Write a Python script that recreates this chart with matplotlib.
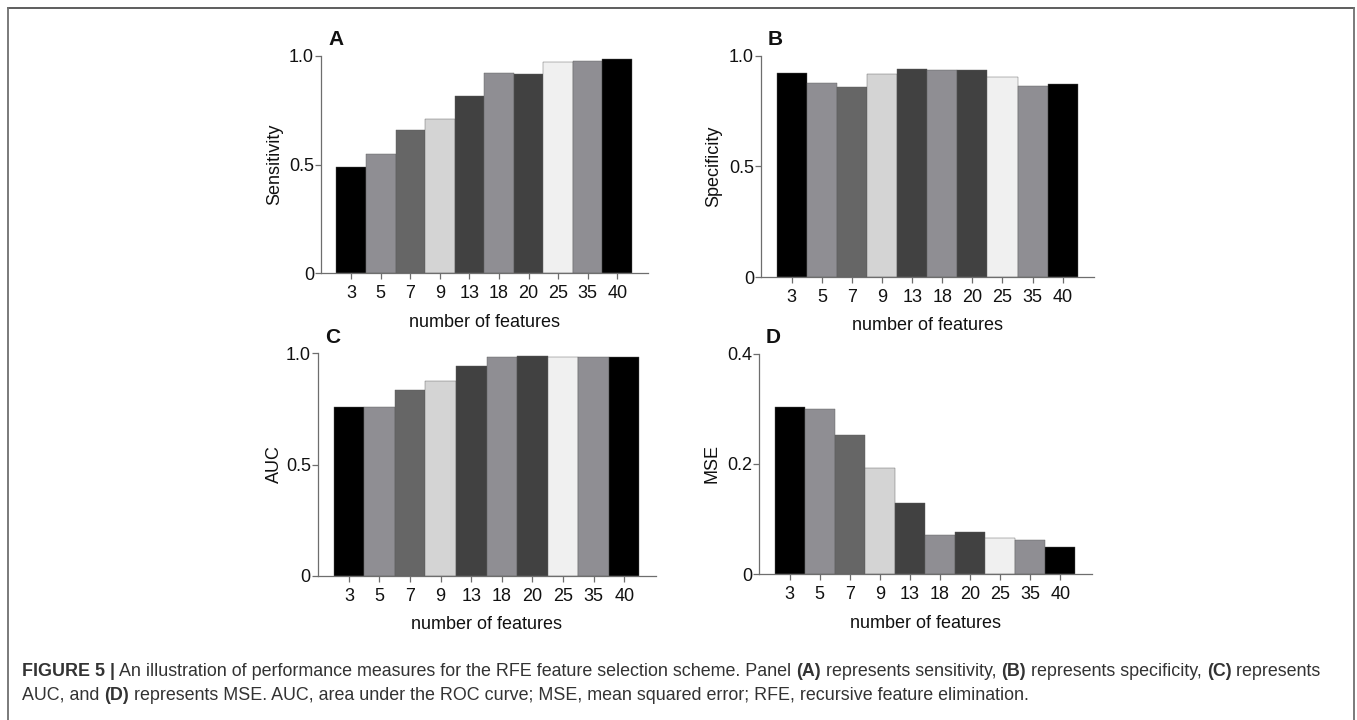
import matplotlib.pyplot as plt
from matplotlib.lines import Line2D

plt.rcParams['font.family'] = ['Liberation Sans', 'DejaVu Sans']

features = ['3', '5', '7', '9', '13', '18', '20', '25', '35', '40']
sensitivity = [0.49, 0.547, 0.657, 0.711, 0.813, 0.922, 0.914, 0.971, 0.974, 0.986]
specificity = [0.920, 0.877, 0.858, 0.917, 0.940, 0.935, 0.935, 0.904, 0.861, 0.870]
auc = [0.759, 0.759, 0.834, 0.877, 0.945, 0.984, 0.987, 0.985, 0.982, 0.982]
mse = [0.304, 0.299, 0.252, 0.193, 0.130, 0.072, 0.076, 0.066, 0.063, 0.050]

bar_colors = ['#000000', '#8f8e93', '#666666', '#d4d4d4', '#414141',
              '#8f8e93', '#414141', '#f0f0f0', '#8f8e93', '#000000']

W, H = 1357, 720
fig = plt.figure(figsize=(W / 100, H / 100), dpi=100)


def px_axes(left, right, top, bottom):
    return fig.add_axes([left / W, 1 - bottom / H, (right - left) / W, (bottom - top) / H])


panels = [
    # letter, values, ylabel, ymax, yticks, ticklabels, box (l, r, t, b), label offset px
    ('A', sensitivity, 'Sensitivity', 1.0, [0, 0.5, 1.0], ['0', '0.5', '1.0'], (321, 648, 55.7, 273.3), 46),
    ('B', specificity, 'Specificity', 1.0, [0, 0.5, 1.0], ['0', '0.5', '1.0'], (761, 1094, 55.7, 277), 47),
    ('C', auc, 'AUC', 1.0, [0, 0.5, 1.0], ['0', '0.5', '1.0'], (317.7, 656, 353.3, 575.7), 43),
    ('D', mse, 'MSE', 0.4, [0, 0.2, 0.4], ['0', '0.2', '0.4'], (759, 1091.7, 353.7, 574.3), 47),
]

axis_col = '#6e6e6e'
fs = 13
for letter, vals, ylab, ymax, yt, ytl, box, yoff in panels:
    l, r, t, b = box
    ax = px_axes(l, r, t, b)
    x = range(len(features))
    ax.bar(x, vals, width=1.0, color=bar_colors, edgecolor='#5a5a5a', linewidth=0.3)
    ax.set_xlim(-1.02, 10.04)
    ax.set_ylim(0, ymax)
    ax.set_xticks(list(x))
    ax.set_xticklabels(features)
    ax.set_yticks(yt)
    ax.set_yticklabels(ytl)
    for s in ['top', 'right']:
        ax.spines[s].set_visible(False)
    for s in ['left', 'bottom']:
        ax.spines[s].set_color(axis_col)
        ax.spines[s].set_linewidth(0.9)
    ax.tick_params(axis='both', colors=axis_col, labelcolor='#111111', labelsize=fs,
                   length=4, width=0.9)
    ax.tick_params(axis='x', pad=4.5)
    ax.tick_params(axis='y', pad=1)
    ax.set_ylabel(ylab, fontsize=fs, color='#111111')
    ax.yaxis.set_label_coords(-yoff / (r - l), 0.5)
    ax.set_xlabel('number of features', fontsize=fs, color='#111111')
    ax.xaxis.set_label_coords(0.5, -49 / (b - t))
    ax.xaxis.label.set_va('center')
    ax.yaxis.label.set_va('center')
    fig.text((l + 7) / W, 1 - (t - 16) / H, letter, fontsize=15, fontweight='bold',
             ha='left', va='center', color='#111111')

# frame around the figure
fc = '#707070'
fig.add_artist(Line2D([7.5 / W, 1354 / W], [1 - 8 / H, 1 - 8 / H], color='#505050', lw=1.3))
fig.add_artist(Line2D([7.5 / W, 7.5 / W], [1 - 8 / H, 0], color=fc, lw=1.3))
fig.add_artist(Line2D([1354 / W, 1354 / W], [1 - 8 / H, 0], color=fc, lw=1.3))

# caption with mixed weights
cap_col = '#333333'
line1 = [('FIGURE 5 |', True),
         (' An illustration of performance measures for the RFE feature selection scheme. Panel ', False),
         ('(A)', True), (' represents sensitivity, ', False), ('(B)', True),
         (' represents specificity, ', False), ('(C)', True), (' represents', False)]
line2 = [('AUC, and ', False), ('(D)', True),
         (' represents MSE. AUC, area under the ROC curve; MSE, mean squared error; RFE, recursive feature elimination.', False)]

renderer = fig.canvas.get_renderer()


def draw_runs(x_px, y_px, runs):
    x = x_px
    for s, bold in runs:
        txt = fig.text(x / W, 1 - y_px / H, s, fontsize=12.9, color=cap_col,
                       fontweight='bold' if bold else 'normal', ha='left', va='center')
        x += txt.get_window_extent(renderer).width


draw_runs(22, 671, line1)
draw_runs(22, 695, line2)

fig.savefig('out.png', dpi=100)
